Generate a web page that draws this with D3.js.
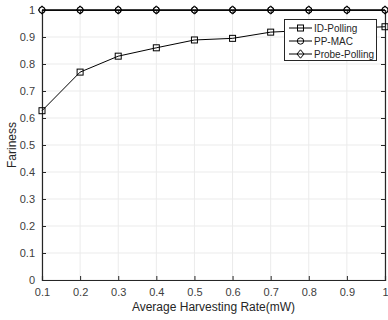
<!DOCTYPE html>
<html><head><meta charset="utf-8">
<script src="https://cdn.jsdelivr.net/npm/d3@7"></script>
<style>body{margin:0;background:#fff;} text{font-family:"Liberation Sans",Arial,sans-serif;}</style>
</head><body>
<svg id="c" width="388" height="320"></svg>
<script>
const xVals = [0.1,0.2,0.3,0.4,0.5,0.6,0.7,0.8,0.9,1.0];
const idPolling = [0.627,0.770,0.829,0.860,0.889,0.895,0.918,0.925,0.932,0.938];
const ppMac = [1,1,1,1,1,1,1,1,1,1];
const probePolling = [1,1,1,1,1,1,1,1,1,1];
const seriesNames = ["ID-Polling","PP-MAC","Probe-Polling"];
const xTicks = [0.1,0.2,0.3,0.4,0.5,0.6,0.7,0.8,0.9,1];
const yTicks = [0,0.1,0.2,0.3,0.4,0.5,0.6,0.7,0.8,0.9,1];

const svg = d3.select("#c");
const L=42, R=385, T=10, B=280;
const x = d3.scaleLinear().domain([0.1,1]).range([L,R]);
const y = d3.scaleLinear().domain([0,1]).range([B,T]);
const fmt = d => String(d);

// grid
svg.append("g").selectAll("line").data(xTicks).join("line")
  .attr("x1",d=>x(d)).attr("x2",d=>x(d)).attr("y1",T).attr("y2",B)
  .attr("stroke","#ebebeb").attr("stroke-width",1);
svg.append("g").selectAll("line").data(yTicks).join("line")
  .attr("y1",d=>y(d)).attr("y2",d=>y(d)).attr("x1",L).attr("x2",R)
  .attr("stroke","#ebebeb").attr("stroke-width",1);

// axes
const xa = svg.append("g").attr("transform",`translate(0,${B})`)
  .call(d3.axisBottom(x).tickValues(xTicks).tickSize(-4).tickPadding(8).tickFormat(fmt));
const xt = svg.append("g").attr("transform",`translate(0,${T})`)
  .call(d3.axisTop(x).tickValues(xTicks).tickSize(-4).tickFormat(""));
const ya = svg.append("g").attr("transform",`translate(${L},0)`)
  .call(d3.axisLeft(y).tickValues(yTicks).tickSize(-4).tickPadding(7).tickFormat(fmt));
const yr = svg.append("g").attr("transform",`translate(${R},0)`)
  .call(d3.axisRight(y).tickValues(yTicks).tickSize(-4).tickFormat(""));
[xa,xt,ya,yr].forEach(g=>{
  g.select(".domain").attr("stroke","#262626").attr("stroke-width",1.2);
  g.selectAll(".tick line").attr("stroke","#262626");
  g.selectAll("text").attr("fill","#404040").style("font-size","11px").style("font-family","Liberation Sans, Arial, sans-serif");
});

// lines
const line = d3.line().x((d,i)=>x(xVals[i])).y(d=>y(d));
const data = [idPolling, ppMac, probePolling];
data.forEach(s=>{
  svg.append("path").attr("d",line(s)).attr("fill","none").attr("stroke","#000").attr("stroke-width",1);
});

function marker(g, kind, cx, cy){
  if(kind===0) g.append("rect").attr("x",cx-3).attr("y",cy-3).attr("width",6).attr("height",6);
  else if(kind===1) g.append("circle").attr("cx",cx).attr("cy",cy).attr("r",3.2);
  else g.append("path").attr("d",`M${cx},${cy-4.2}L${cx+3.5},${cy}L${cx},${cy+4.2}L${cx-3.5},${cy}Z`);
}
data.forEach((s,k)=>{
  const g = svg.append("g").attr("fill","none").attr("stroke","#000").attr("stroke-width",1);
  s.forEach((v,i)=>marker(g,k,x(xVals[i]),y(v)));
});

// legend
const lg = svg.append("g");
lg.append("rect").attr("x",284.5).attr("y",19.5).attr("width",92).attr("height",41)
  .attr("fill","#fff").attr("stroke","#262626").attr("stroke-width",1);
seriesNames.forEach((n,k)=>{
  const yy = 28 + k*13;
  lg.append("line").attr("x1",289).attr("x2",312).attr("y1",yy).attr("y2",yy).attr("stroke","#000");
  const g = lg.append("g").attr("fill","none").attr("stroke","#000");
  marker(g,k,300.5,yy);
  lg.append("text").attr("x",314).attr("y",yy+4).text(n).attr("fill","#262626").style("font-size","10px");
});

// labels
svg.append("text").attr("x",(L+R)/2).attr("y",311).attr("text-anchor","middle")
  .style("font-size","12px").attr("fill","#262626").text("Average Harvesting Rate(mW)");
svg.append("text").attr("transform",`translate(16,${(T+B)/2}) rotate(-90)`).attr("text-anchor","middle")
  .style("font-size","12px").attr("fill","#262626").text("Fariness");
</script>
</body></html>
